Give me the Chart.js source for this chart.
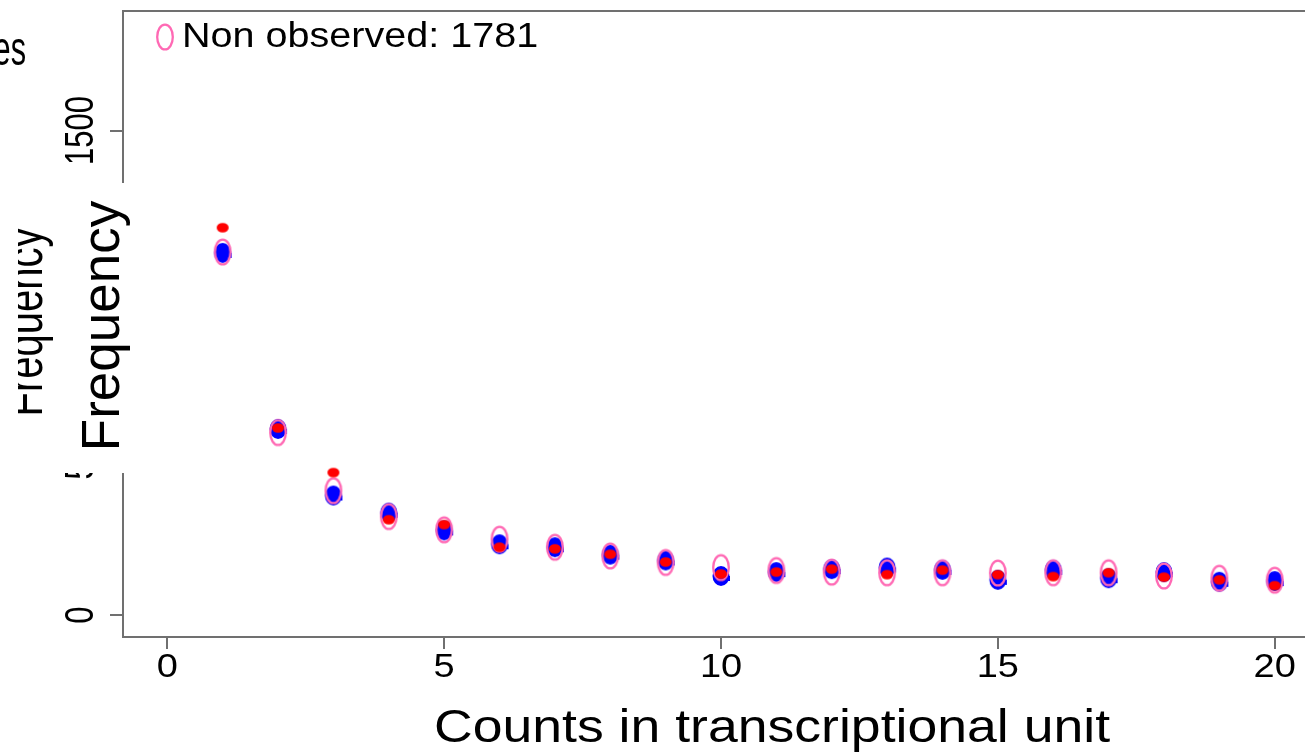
<!DOCTYPE html>
<html>
<head>
<meta charset="utf-8">
<script src="https://cdn.jsdelivr.net/npm/chart.js@4.4.1/dist/chart.umd.min.js"></script>
<style>
  html, body { margin: 0; padding: 0; background: #ffffff; overflow: hidden; }
  canvas { display: block; }
</style>
</head>
<body>
<canvas id="freqChart" width="1330" height="756"></canvas>
<script>
// Counts per transcriptional unit and the frequency of each count
const counts = [1, 2, 3, 4, 5, 6, 7, 8, 9, 10, 11, 12, 13, 14, 15, 16, 17, 18, 19, 20];
const nonObserved = [1124, 565, 385, 305, 264, 235, 210, 183, 163, 147, 138, 133, 131, 131, 130, 131, 131, 121, 114, 108];
const observed    = [1121, 576, 370, 317, 262, 219, 210, 187, 169, 121, 133, 142, 147, 140, 109, 140, 114, 133, 103, 105];
const fitted      = [1199, 579, 441, 295, 280, 210, 205, 188, 164, 127, 133, 142, 125, 139, 125, 119, 131, 117, 109, 91];

const xTickValues = [0, 5, 10, 15, 20];
const yTickValues = [0, 500, 1000, 1500];
const xTitle = 'Counts in transcriptional unit';
const yTitle = 'Frequency';
const legendLabel = 'Non observed: 1781';
const cornerText = 'es';

const FONT = '"Liberation Sans", Arial, Helvetica, sans-serif';
const AXIS_GREY = '#707070';

// Marker images (slightly elongated symbols)
function makeMarker(w, h, paint) {
  const c = document.createElement('canvas');
  c.width = w; c.height = h;
  paint(c.getContext('2d'));
  return c;
}
const pinkRing = makeMarker(22, 32, g => {
  g.strokeStyle = '#ff69b4';
  g.lineWidth = 2.3;
  g.beginPath();
  g.ellipse(11, 16, 7.8, 12.4, 0, 0, Math.PI * 2);
  g.stroke();
});
const blueDot = makeMarker(26, 24, g => {
  g.fillStyle = '#0000ff';
  g.beginPath();
  g.ellipse(13, 12, 8.5, 10, 0, 0, Math.PI * 2);
  g.fill();
  g.fillRect(19.5, 12, 2.5, 5);
});
const redDot = makeMarker(14, 12, g => {
  g.fillStyle = '#ff0000';
  g.beginPath();
  g.ellipse(7, 6, 6, 4.8, 0, 0, Math.PI * 2);
  g.fill();
});

const toPoints = vals => counts.map((c, i) => ({ x: c, y: vals[i] }));

function drawText(ctx, str, x, y, o) {
  ctx.save();
  ctx.translate(x, y);
  ctx.rotate(o.rot || 0);
  ctx.scale(o.sx || 1, o.sy || 1);
  ctx.font = o.size + 'px ' + FONT;
  ctx.textAlign = o.align || 'center';
  ctx.textBaseline = 'alphabetic';
  ctx.fillStyle = '#000000';
  ctx.fillText(str, 0, 0);
  ctx.restore();
}

// Plot frame, tick labels, titles and legend
const decorations = {
  id: 'decorations',
  beforeDatasetsDraw(chart) {
    const { ctx, chartArea: a } = chart;
    ctx.save();
    ctx.strokeStyle = AXIS_GREY;
    ctx.lineWidth = 2;
    ctx.strokeRect(a.left, a.top, a.right - a.left, a.bottom - a.top);
    ctx.restore();
  },
  afterDraw(chart) {
    const { ctx } = chart;
    const xs = chart.scales.x, ys = chart.scales.y;

    xs.ticks.forEach(t => {
      drawText(ctx, String(t.value), xs.getPixelForValue(t.value), 677, { size: 33, sx: 1.15 });
    });
    ys.ticks.forEach(t => {
      drawText(ctx, String(t.value), 93, ys.getPixelForValue(t.value), { size: 31, sy: 1.3, rot: -Math.PI / 2 });
    });

    drawText(ctx, xTitle, 772, 742, { size: 47, sx: 1.14 });

    // legend entry
    ctx.drawImage(pinkRing, 165 - pinkRing.width / 2, 37 - pinkRing.height / 2);
    drawText(ctx, legendLabel, 182, 47, { size: 35, sx: 1.13, align: 'left' });

    drawText(ctx, cornerText, 26, 65, { size: 48, sx: 0.64, align: 'right' });

    // original axis title, cut off at its left side
    ctx.save();
    ctx.beginPath();
    ctx.rect(18, 0, 200, chart.height);
    ctx.clip();
    drawText(ctx, yTitle, 42, 322, { size: 40, sy: 1.3, rot: -Math.PI / 2 });
    ctx.restore();

    // label panel over the left axis
    ctx.save();
    ctx.fillStyle = '#ffffff';
    ctx.fillRect(58, 183, 68, 290);
    ctx.restore();
    drawText(ctx, yTitle, 119, 326, { size: 53, rot: -Math.PI / 2 });
  }
};

new Chart(document.getElementById('freqChart'), {
  type: 'scatter',
  data: {
    datasets: [
      { label: 'Observed', data: toPoints(observed), pointStyle: blueDot, pointRadius: 10, order: 3 },
      { label: 'Non observed', data: toPoints(nonObserved), pointStyle: pinkRing, pointRadius: 10, order: 2 },
      { label: 'Fitted', data: toPoints(fitted), pointStyle: redDot, pointRadius: 6, order: 1 }
    ]
  },
  options: {
    responsive: false,
    devicePixelRatio: 1,
    animation: false,
    events: [],
    layout: { padding: { left: 110, top: 8, right: 11, bottom: 107 } },
    plugins: { legend: { display: false }, tooltip: { enabled: false } },
    scales: {
      x: {
        type: 'linear',
        min: -0.8,
        max: 20.8,
        afterBuildTicks: s => { s.ticks = xTickValues.map(v => ({ value: v })); },
        afterFit: s => { s.height = 12; },
        ticks: { display: false },
        border: { display: false },
        grid: { drawOnChartArea: false, drawTicks: true, tickLength: 12, color: AXIS_GREY, lineWidth: 2 }
      },
      y: {
        type: 'linear',
        min: -68,
        max: 1870,
        afterBuildTicks: s => { s.ticks = yTickValues.map(v => ({ value: v })); },
        afterFit: s => { s.width = 13; },
        ticks: { display: false },
        border: { display: false },
        grid: { drawOnChartArea: false, drawTicks: true, tickLength: 13, color: AXIS_GREY, lineWidth: 2 }
      }
    }
  },
  plugins: [decorations]
});
</script>
</body>
</html>
